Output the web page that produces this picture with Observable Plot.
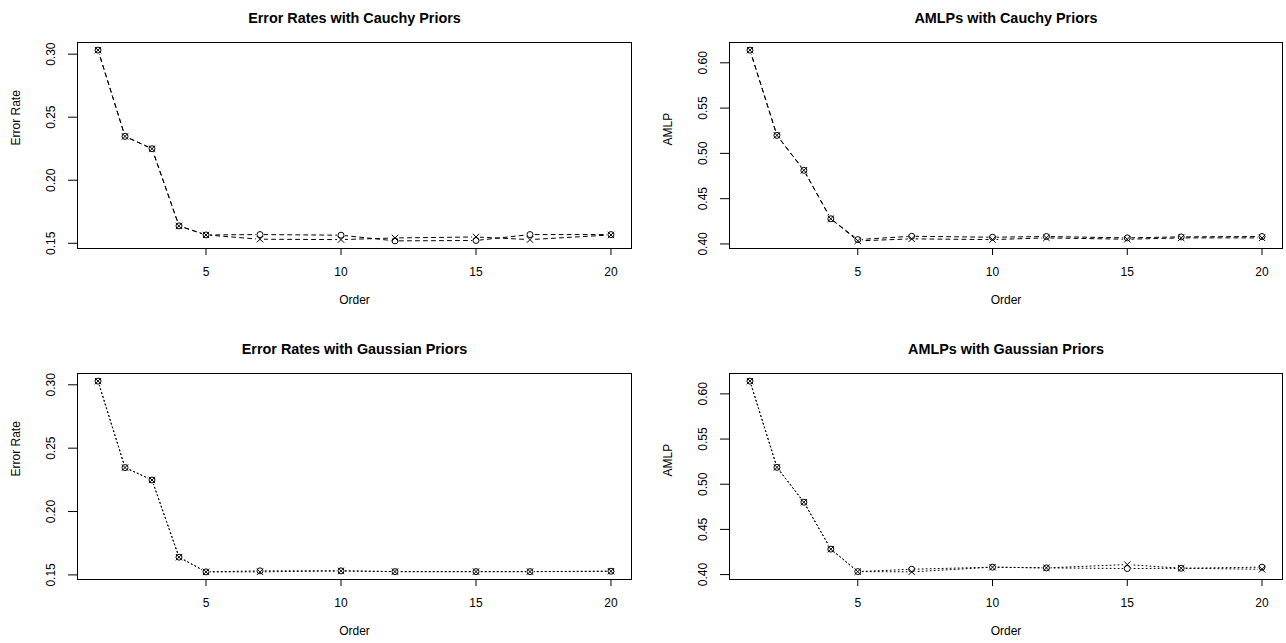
<!DOCTYPE html>
<html><head><meta charset="utf-8">
<script src="https://cdn.jsdelivr.net/npm/d3@7"></script>
<script src="https://cdn.jsdelivr.net/npm/@observablehq/plot@0.6"></script>
<style>
html,body{margin:0;padding:0;background:#fff;}
#chart{position:relative;width:1286px;height:643px;overflow:hidden;background:#fff;}
.panel{position:absolute;}
</style></head><body><div id="chart"></div>
<script>
// ---- data ----
const orders = [1, 2, 3, 4, 5, 7, 10, 12, 15, 17, 20];

const errCauchyCircle = [0.3032, 0.2348, 0.2250, 0.1638, 0.1566, 0.1569, 0.1564, 0.1519, 0.1522, 0.1569, 0.1569];
const errCauchyCross  = [0.3032, 0.2348, 0.2250, 0.1638, 0.1566, 0.1532, 0.1529, 0.1542, 0.1550, 0.1529, 0.1566];

const amlpCauchyCircle = [0.6140, 0.5199, 0.4813, 0.4278, 0.4048, 0.4085, 0.4074, 0.4082, 0.4067, 0.4078, 0.4082];
const amlpCauchyCross  = [0.6140, 0.5199, 0.4813, 0.4278, 0.4034, 0.4056, 0.4048, 0.4067, 0.4052, 0.4067, 0.4067];

const errGaussCircle = [0.3029, 0.2347, 0.2249, 0.1640, 0.1524, 0.1532, 0.1532, 0.1526, 0.1526, 0.1526, 0.1529];
const errGaussCross  = [0.3029, 0.2347, 0.2249, 0.1640, 0.1524, 0.1524, 0.1532, 0.1526, 0.1526, 0.1526, 0.1529];

const amlpGaussCircle = [0.6141, 0.5187, 0.4801, 0.4282, 0.4033, 0.4059, 0.4082, 0.4074, 0.4067, 0.4070, 0.4082];
const amlpGaussCross  = [0.6141, 0.5187, 0.4801, 0.4282, 0.4033, 0.4030, 0.4082, 0.4074, 0.4111, 0.4070, 0.4059];

const xTicks = [5, 10, 15, 20];
const errTicks = [0.15, 0.20, 0.25, 0.30];
const amlpTicks = [0.40, 0.45, 0.50, 0.55, 0.60];

const titles = ["Error Rates with Cauchy Priors", "AMLPs with Cauchy Priors",
                "Error Rates with Gaussian Priors", "AMLPs with Gaussian Priors"];
const yLabels = ["Error Rate", "AMLP", "Error Rate", "AMLP"];
const xLabel = "Order";

// ---- drawing ----
const FONT = '"Liberation Sans", Arial, Helvetica, sans-serif';

function extend(ext) { const p = (ext[1] - ext[0]) * 0.04; return [ext[0] - p, ext[1] + p]; }

function panel({title, yLabel, circle, cross, ticks, dash, left, top, marginLeft, marginRight}) {
  const circleRows = orders.map((o, i) => ({order: o, value: circle[i], series: "circle"}));
  const crossRows = orders.map((o, i) => ({order: o, value: cross[i], series: "cross"}));
  const rows = circleRows.concat(crossRows);
  const svg = Plot.plot({
    width: 643, height: 312,
    marginTop: 42, marginBottom: 64, marginLeft, marginRight,
    style: {fontFamily: FONT, fontSize: "12px", background: "white", color: "black", overflow: "visible"},
    x: {domain: extend(d3.extent(orders))},
    y: {domain: extend(d3.extent(circle.concat(cross)))},
    marks: [
      Plot.line(rows, {x: "order", y: "value", z: "series", stroke: "black", strokeWidth: 1, strokeDasharray: dash}),
      Plot.dot(rows, {x: "order", y: "value", r: 4, fill: "white", stroke: "none"}),
      Plot.dot(circleRows, {x: "order", y: "value", r: 3, symbol: "circle", stroke: "black", fill: "none", strokeWidth: 1}),
      Plot.dot(crossRows, {x: "order", y: "value", r: 3, symbol: "times", stroke: "black", fill: "none", strokeWidth: 1}),
      Plot.frame({stroke: "black", strokeWidth: 1}),
      Plot.axisX({ticks: xTicks, tickSize: 7, tickPadding: 12, label: null, fontSize: 12}),
      Plot.axisY({ticks, tickSize: 9, tickPadding: 14, tickRotate: -90, tickFormat: d3.format(".2f"), label: null, fontSize: 12}),
      Plot.text([title], {text: d => d, frameAnchor: "top", dy: -30, fontWeight: "bold", fontSize: 14.4}),
      Plot.text([xLabel], {text: d => d, frameAnchor: "bottom", dy: 55, fontSize: 12}),
      Plot.text([yLabel], {text: d => d, frameAnchor: "left", dx: -61.5, rotate: -90, fontSize: 12})
    ]
  });
  const div = document.createElement("div");
  div.className = "panel";
  div.style.left = left + "px";
  div.style.top = top + "px";
  div.appendChild(svg);
  document.getElementById("chart").appendChild(div);
}

panel({title: titles[0], yLabel: yLabels[0], circle: errCauchyCircle, cross: errCauchyCross, ticks: errTicks,
       dash: "4,4", left: 0, top: 0, marginLeft: 77, marginRight: 12});
panel({title: titles[1], yLabel: yLabels[1], circle: amlpCauchyCircle, cross: amlpCauchyCross, ticks: amlpTicks,
       dash: "4,4", left: 643, top: 0, marginLeft: 86, marginRight: 4});
panel({title: titles[2], yLabel: yLabels[2], circle: errGaussCircle, cross: errGaussCross, ticks: errTicks,
       dash: "1,3", left: 0, top: 331, marginLeft: 77, marginRight: 12});
panel({title: titles[3], yLabel: yLabels[3], circle: amlpGaussCircle, cross: amlpGaussCross, ticks: amlpTicks,
       dash: "1,3", left: 643, top: 331, marginLeft: 86, marginRight: 4});
</script></body></html>
